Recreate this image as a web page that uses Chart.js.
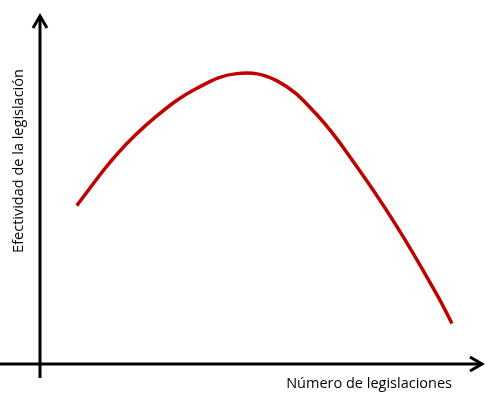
<!DOCTYPE html>
<html>
<head>
<meta charset="utf-8">
<script src="https://cdn.jsdelivr.net/npm/chart.js@4"></script>
<style>
  html, body { margin: 0; padding: 0; background: #fff; }
  #wrap { width: 500px; height: 404px; }
</style>
</head>
<body>
<div id="wrap"><canvas id="chart"></canvas></div>
<script>
// curve (0-100 on both axes)
const legislaciones = [8.3, 17.3, 26.3, 35.4, 44.4, 53.4, 62.5, 71.5, 80.5, 89.5, 93.0];
const efectividad = [45.4, 60.0, 71.0, 79.0, 83.2, 81.2, 71.4, 56.6, 39.5, 20.1, 11.6];

const xTitle = "Número de legislaciones";
const yTitle = "Efectividad de la legislación";

// draws the two arrowed axes and their titles
const axesPlugin = {
    id: "axes",
    afterDraw(chart) {
        const ctx = chart.ctx;
        const area = chart.chartArea;
        const x0 = area.left;
        const y0 = area.bottom;

        ctx.save();
        ctx.strokeStyle = "#000";
        ctx.lineWidth = 3;
        ctx.lineCap = "butt";

        // y axis
        ctx.beginPath();
        ctx.moveTo(x0, y0 + 14);
        ctx.lineTo(x0, area.top + 1);
        ctx.stroke();
        ctx.beginPath();
        ctx.moveTo(x0 - 7, area.top + 13);
        ctx.lineTo(x0, area.top + 1);
        ctx.lineTo(x0 + 7, area.top + 13);
        ctx.stroke();

        // x axis
        ctx.beginPath();
        ctx.moveTo(0, y0);
        ctx.lineTo(area.right - 1, y0);
        ctx.stroke();
        ctx.beginPath();
        ctx.moveTo(area.right - 13, y0 - 7);
        ctx.lineTo(area.right - 1, y0);
        ctx.lineTo(area.right - 13, y0 + 7);
        ctx.stroke();

        ctx.fillStyle = "#000";
        ctx.font = "14.5px 'Open Sans'";
        ctx.textBaseline = "middle";

        ctx.textAlign = "right";
        ctx.fillText(xTitle, 452, y0 + 20);

        ctx.translate(19, 161);
        ctx.rotate(-Math.PI / 2);
        ctx.textAlign = "center";
        ctx.fillText(yTitle, 0, 0);
        ctx.restore();
    }
};

new Chart(document.getElementById("chart"), {
    type: "line",
    data: {
        datasets: [{
            data: legislaciones.map((x, i) => ({ x: x, y: efectividad[i] })),
            borderColor: "#C00000",
            borderWidth: 3.5,
            pointRadius: 0,
            tension: 0.4,
            fill: false
        }]
    },
    options: {
        responsive: true,
        maintainAspectRatio: false,
        animation: false,
        layout: { padding: { left: 40, right: 17, top: 15, bottom: 40 } },
        plugins: {
            legend: { display: false },
            tooltip: { enabled: false }
        },
        scales: {
            x: { type: "linear", min: 0, max: 100, display: false },
            y: { min: 0, max: 100, display: false }
        }
    },
    plugins: [axesPlugin]
});
</script>
</body>
</html>
